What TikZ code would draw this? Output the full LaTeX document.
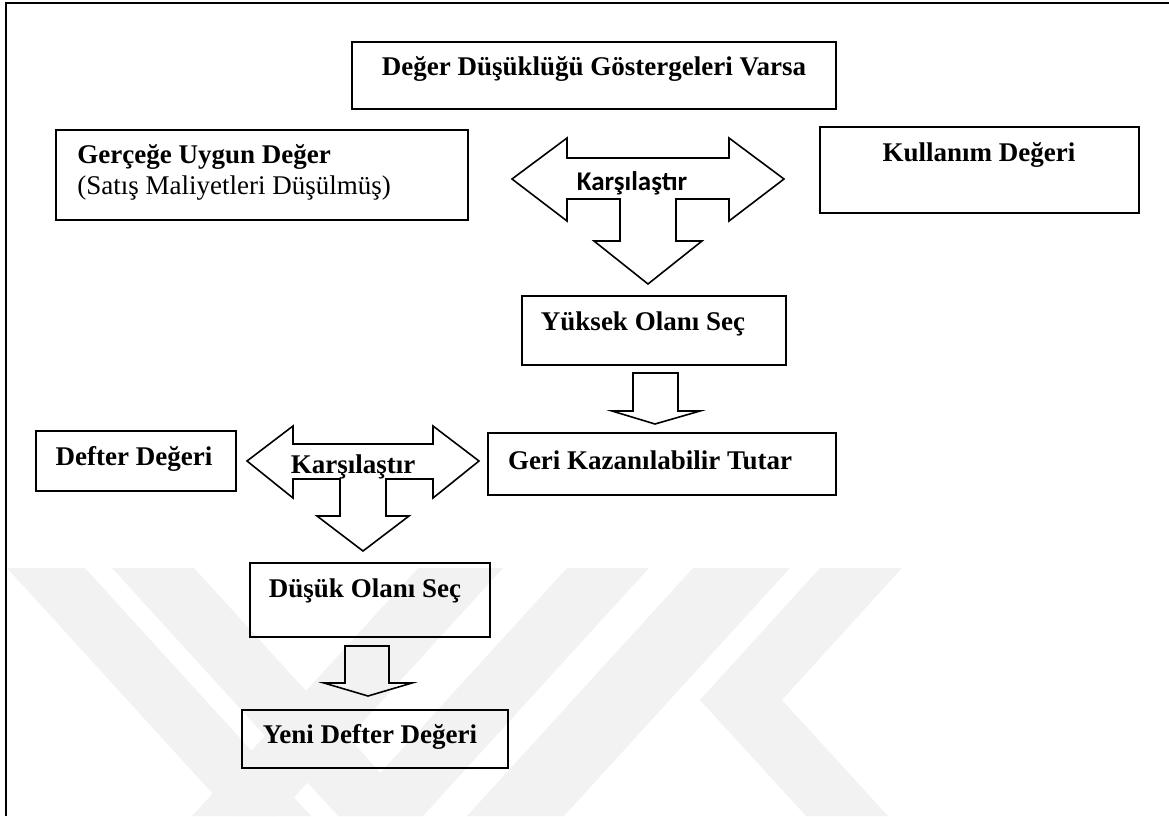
\documentclass[tikz,border=0pt]{standalone}
\usepackage{fontspec}
\setmainfont{Liberation Serif}
\newfontfamily\calibri{Carlito}

\begin{document}
\begin{tikzpicture}[x=0.5pt, y=-0.5pt,
  kutu/.style={draw, line width=1pt, inner sep=0pt},
  yazi/.style={font=\fontsize{13.5}{15.5}\selectfont\bfseries, inner sep=0pt},
  ok/.style={draw, line width=0.8pt, line join=miter},
  filigran/.style={fill=black!5, draw=none}]
\useasboundingbox (0,0) rectangle (1169,816);
% filigran
\fill[filigran] (7,568) -- (85,568) -- (311,816) -- (233,816) -- cycle;
\fill[filigran] (112,568) -- (194,568) -- (420,816) -- (338,816) -- cycle;
\fill[filigran] (418,568) -- (503,568) -- (277,816) -- (192,816) -- cycle;
\fill[filigran] (567,568) -- (649,568) -- (423,816) -- (341,816) -- cycle;
\fill[filigran] (693,568) -- (790,568) -- (564,816) -- (467,816) -- cycle;
\fill[filigran] (820,568) -- (902,568) -- (782,700) -- (888,816) -- (806,816) -- (700,700) -- cycle;
% cerceve
\draw[line width=1pt] (1169,3) -- (6,3) -- (6,816);
% kutular
\node[kutu, minimum width=242pt, minimum height=33.5pt] (ust) at (594,75.5) {};
\node[kutu, minimum width=206pt, minimum height=45pt] (gercege) at (262,175) {};
\node[kutu, minimum width=159.5pt, minimum height=43pt] (kullanim) at (979.5,170) {};
\node[kutu, minimum width=132pt, minimum height=34.5pt] (yuksek) at (654,330.5) {};
\node[kutu, minimum width=174pt, minimum height=31pt] (geri) at (662,464) {};
\node[kutu, minimum width=100pt, minimum height=30pt] (defter) at (136,461) {};
\node[kutu, minimum width=120pt, minimum height=37pt] (dusuk) at (370,600) {};
\node[kutu, minimum width=133pt, minimum height=29pt] (yeni) at (375,739) {};
% yazilar
\node[yazi] (ustT) at (594,69) {Değer Düşüklüğü Göstergeleri Varsa};
\node[yazi, anchor=west, align=left] (gercegeT) at (77,172) {Gerçeğe Uygun Değer\\{\mdseries (Satış Maliyetleri Düşülmüş)}};
\node[yazi] (kullanimT) at (979,155) {Kullanım Değeri};
\node[yazi] (yuksekT) at (643,324) {Yüksek Olanı Seç};
\node[yazi] (geriT) at (650,460) {Geri Kazanılabilir Tutar};
\node[yazi] (defterT) at (134,459) {Defter Değeri};
\node[yazi] (dusukT) at (365,591) {Düşük Olanı Seç};
\node[yazi] (yeniT) at (370,737) {Yeni Defter Değeri};
% oklar
\draw[ok] (512,179) -- (567,138) -- (567,158) -- (729,158) -- (729,138) -- (784,179) -- (729,221) -- (729,199) -- (676,199) -- (676,241) -- (702,241) -- (648,284) -- (594,241) -- (620,241) -- (620,199) -- (567,199) -- (567,221) -- cycle;
\draw[ok] (633,373) -- (678,373) -- (678,411) -- (700,411) -- (655,424) -- (612,411) -- (633,411) -- cycle;
\draw[ok] (247,461) -- (293,426) -- (293,444) -- (433,444) -- (433,426) -- (479,461) -- (433,498) -- (433,479) -- (386,479) -- (386,516) -- (409,516) -- (363,551) -- (317,516) -- (340,516) -- (340,479) -- (293,479) -- (293,498) -- cycle;
\draw[ok] (345,646) -- (389,646) -- (389,683) -- (412,683) -- (368,696) -- (324,683) -- (345,683) -- cycle;
\node[yazi, font=\calibri\fontsize{13.5}{15.5}\selectfont\bfseries] (karsi1) at (632,183) {Karşılaştır};
\node[yazi] (karsi2) at (353,467) {Karşılaştır};
\end{tikzpicture}
\end{document}
